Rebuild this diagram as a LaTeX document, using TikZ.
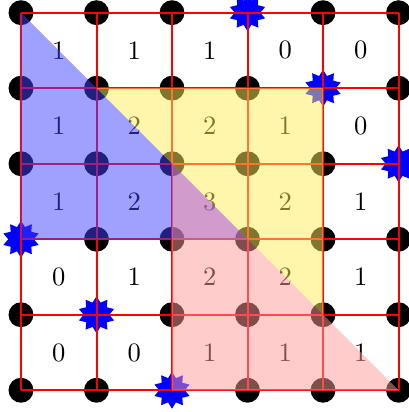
\documentclass[tikz,border=0pt]{standalone}
\usetikzlibrary{shapes.geometric}
\definecolor{triblue}{RGB}{65,65,255}
\definecolor{triyellow}{RGB}{255,237,90}
\definecolor{tripink}{RGB}{255,153,153}
\definecolor{gridred}{RGB}{255,0,0}
\tikzset{
  dotnode/.style={circle,fill=black,inner sep=0pt,minimum size=0.33cm},
  starnode/.style={star,star points=10,star point ratio=1.45,fill=blue,inner sep=0pt,minimum size=0.49cm},
  gridline/.style={draw=gridred,line width=0.75pt},
  numnode/.style={inner sep=0pt,font=\normalsize},
  tri/.style={opacity=0.5}
}
\begin{document}
\begin{tikzpicture}
\useasboundingbox (-0.278,-0.288) rectangle (5.132,5.168);
% dots
\foreach \x in {0,...,5}{
  \foreach \y in {0,...,5}{
    \pgfmathtruncatemacro{\sumxy}{mod(\x+\y,6)}
    \ifnum\sumxy=2\else
      \node[dotnode] (d-\x-\y) at (\x,\y) {};
    \fi
  }
}
% stars
\foreach \x/\y in {3/5,4/4,5/3,0/2,1/1,2/0}{
  \node[starnode] (s-\x-\y) at (\x,\y) {};
}
% grid
\coordinate (gll) at (0,0);
\coordinate (gur) at (5,5);
\path[gridline] (gll) grid (gur);
% numbers
\foreach \r/\vals in {4/{1,1,1,0,0},3/{1,2,2,1,0},2/{1,2,3,2,1},1/{0,1,2,2,1},0/{0,0,1,1,1}}{
  \foreach \v [count=\c from 0] in \vals {
    \node[numnode] (n-\c-\r) at (\c+0.5,\r+0.5) {\v};
  }
}
% triangles
\coordinate (b1) at (0,5); \coordinate (b2) at (0,2); \coordinate (b3) at (3,2);
\coordinate (y1) at (1,4); \coordinate (y2) at (4,4); \coordinate (y3) at (4,1);
\coordinate (p1) at (2,3); \coordinate (p2) at (2,0); \coordinate (p3) at (5,0);
\fill[triblue,tri] (b1) -- (b2) -- (b3) -- cycle;
\fill[triyellow,tri] (y1) -- (y2) -- (y3) -- cycle;
\fill[tripink,tri] (p1) -- (p2) -- (p3) -- cycle;
\end{tikzpicture}
\end{document}
